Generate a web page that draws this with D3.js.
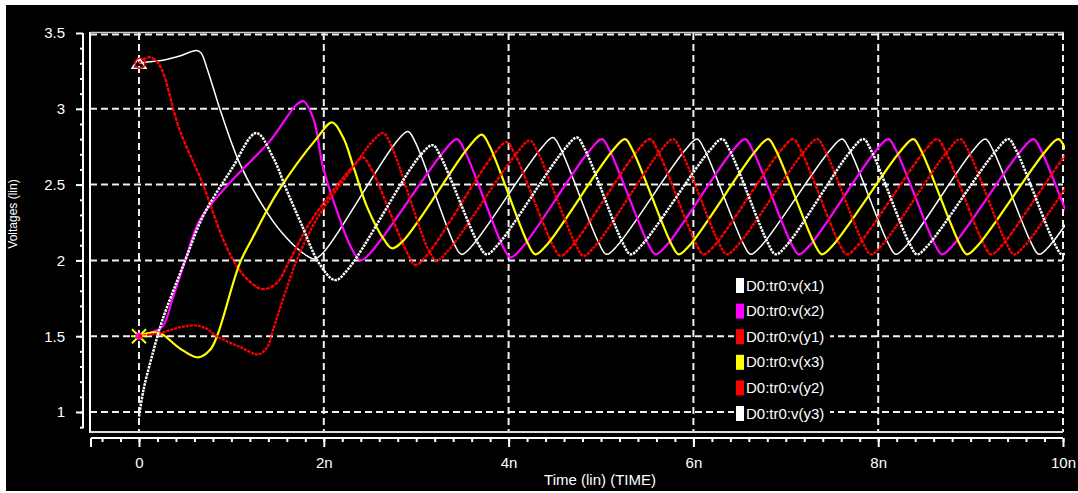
<!DOCTYPE html>
<html><head><meta charset="utf-8">
<script src="https://cdn.jsdelivr.net/npm/d3@7"></script>
<style>
html,body{margin:0;padding:0;background:#fff;}
svg{display:block;}
text{font-family:"Liberation Sans",Arial,sans-serif;fill:#fff;}
</style></head><body>
<svg id="chart" width="1078" height="493"></svg>
<script>
// ---- data (time in ns, voltage in V) ----
const xTicks = [0, 2, 4, 6, 8, 10];
const xTickLabels = ["0", "2n", "4n", "6n", "8n", "10n"];
const yTicks = [1, 1.5, 2, 2.5, 3, 3.5];
const yTickLabels = ["1", "1.5", "2", "2.5", "3", "3.5"];
const seriesNames = ["D0:tr0:v(x1)", "D0:tr0:v(x2)", "D0:tr0:v(y1)", "D0:tr0:v(x3)", "D0:tr0:v(y2)", "D0:tr0:v(y3)"];
const seriesColors = ["#ffffff", "#ff00ff", "#ff0000", "#ffff00", "#ff0000", "#ffffff"];

const x1Data = [[0,3.30],[0.12,3.31],[0.26,3.32],[0.45,3.35],[0.62,3.385],[0.67,3.37],[0.74,3.26],[0.88,2.99],[1.09,2.64],[1.35,2.35],[1.55,2.18],[1.75,2.06],[1.9,2.01],
  [2.02,2.07],[2.77,2.77],[2.91,2.85],[2.99,2.78],[3.41,2.11],[3.49,2.04],[3.61,2.10],[4.34,2.73],[4.48,2.81],[4.56,2.74],[4.98,2.11],[5.06,2.04],[5.18,2.10],
  [5.90,2.72],[6.04,2.80],[6.12,2.73],[6.54,2.11],[6.62,2.04],[6.74,2.10],[7.47,2.72],[7.61,2.80],[7.69,2.73],[8.11,2.11],[8.19,2.04],[8.31,2.10],
  [9.02,2.72],[9.16,2.80],[9.24,2.73],[9.66,2.11],[9.74,2.04],[9.86,2.10],[10.58,2.72],[10.72,2.80]];
const x2Data = [[0,1.5],[0.1,1.52],[0.25,1.56],[0.37,1.76],[0.5,2.0],[0.66,2.27],[0.98,2.51],[1.42,2.79],[1.71,3.03],[1.78,3.05],[1.89,2.93],[1.99,2.62],[2.14,2.33],[2.3,2.08],[2.4,2.0],
  [2.52,2.06],[3.30,2.72],[3.44,2.80],[3.52,2.73],[3.94,2.09],[4.02,2.02],[4.14,2.08],[4.87,2.72],[5.01,2.80],[5.09,2.73],[5.51,2.11],[5.59,2.04],[5.71,2.10],
  [6.42,2.72],[6.56,2.80],[6.64,2.73],[7.06,2.11],[7.14,2.04],[7.26,2.10],[7.97,2.72],[8.11,2.80],[8.19,2.73],[8.61,2.11],[8.69,2.04],[8.81,2.10],
  [9.54,2.72],[9.68,2.80],[9.76,2.73],[10.18,2.11],[10.26,2.04]];
const y1Data = [[0,3.30],[0.06,3.33],[0.12,3.34],[0.22,3.29],[0.44,2.86],[0.68,2.52],[0.91,2.14],[1.05,1.97],[1.2,1.86],[1.34,1.81],[1.49,1.85],[1.63,2.0],[1.85,2.25],[2.15,2.50],[2.33,2.63],[2.42,2.68],
  [2.50,2.62],[2.91,2.04],[2.99,1.97],[3.11,2.03],[3.84,2.70],[3.98,2.78],[4.06,2.71],[4.48,2.10],[4.56,2.03],[4.68,2.09],[5.39,2.72],[5.53,2.80],[5.61,2.73],
  [6.03,2.11],[6.11,2.04],[6.23,2.10],[6.94,2.72],[7.08,2.80],[7.16,2.73],[7.58,2.11],[7.66,2.04],[7.78,2.10],[8.50,2.72],[8.64,2.80],[8.72,2.73],
  [9.14,2.11],[9.22,2.04],[9.34,2.10],[10.06,2.72],[10.2,2.80]];
const x3Data = [[0,1.5],[0.1,1.52],[0.23,1.52],[0.44,1.42],[0.64,1.36],[0.77,1.41],[0.85,1.51],[1.09,1.98],[1.23,2.15],[1.5,2.45],[1.93,2.81],[2.09,2.91],[2.21,2.81],[2.32,2.62],[2.47,2.35],[2.66,2.13],[2.74,2.08],
  [2.86,2.13],[3.57,2.75],[3.71,2.83],[3.79,2.76],[4.21,2.11],[4.29,2.04],[4.41,2.10],[5.12,2.72],[5.26,2.80],[5.34,2.73],[5.76,2.11],[5.84,2.04],[5.96,2.10],
  [6.67,2.72],[6.81,2.80],[6.89,2.73],[7.31,2.11],[7.39,2.04],[7.51,2.10],[8.24,2.72],[8.38,2.80],[8.46,2.73],[8.88,2.11],[8.96,2.04],[9.08,2.10],
  [9.81,2.72],[9.95,2.80],[10.03,2.73],[10.45,2.11]];
const y2Data = [[0,1.5],[0.1,1.51],[0.23,1.52],[0.45,1.56],[0.63,1.57],[0.73,1.55],[0.84,1.5],[1.09,1.43],[1.29,1.38],[1.39,1.43],[1.45,1.54],[1.6,1.82],[1.74,2.05],[1.95,2.3],[2.3,2.6],[2.52,2.78],[2.64,2.84],
  [2.72,2.77],[3.14,2.06],[3.22,2.0],[3.34,2.06],[4.09,2.71],[4.23,2.79],[4.31,2.72],[4.73,2.10],[4.81,2.03],[4.93,2.09],[5.64,2.72],[5.78,2.80],[5.86,2.73],
  [6.28,2.11],[6.36,2.04],[6.48,2.10],[7.20,2.72],[7.34,2.80],[7.42,2.73],[7.84,2.11],[7.92,2.04],[8.04,2.10],[8.75,2.72],[8.89,2.80],[8.97,2.73],
  [9.39,2.11],[9.47,2.04],[9.59,2.10],[10.31,2.72],[10.45,2.80]];
const y3Data = [[0,0.97],[0.05,1.15],[0.15,1.39],[0.25,1.6],[0.5,2.0],[0.7,2.3],[1.0,2.6],[1.27,2.84],[1.45,2.68],[1.6,2.46],[1.75,2.25],[1.95,1.98],[2.12,1.87],
  [2.26,1.94],[3.04,2.69],[3.18,2.76],[3.26,2.69],[3.68,2.10],[3.76,2.04],[3.88,2.10],[4.60,2.73],[4.74,2.81],[4.82,2.74],[5.24,2.11],[5.32,2.04],[5.44,2.10],
  [6.17,2.72],[6.31,2.80],[6.39,2.73],[6.81,2.11],[6.89,2.04],[7.01,2.10],[7.70,2.72],[7.84,2.80],[7.92,2.73],[8.34,2.11],[8.42,2.04],[8.54,2.10],
  [9.27,2.72],[9.41,2.80],[9.49,2.73],[9.91,2.11],[9.99,2.04],[10.11,2.10],[10.83,2.72]];
const allSeries = [x1Data, x2Data, y1Data, x3Data, y2Data, y3Data];

// ---- drawing ----
const svg = d3.select("#chart");
const x = d3.scaleLinear().domain([0, 10]).range([139, 1063]);
const y = d3.scaleLinear().domain([1, 3.5]).range([412, 33]);
const L = 90, R = x(10), T = y(3.5), B = 432;

svg.append("rect").attr("x", 6).attr("y", 5).attr("width", 1072).attr("height", 486).attr("fill", "#000");

// grid
const grid = svg.append("g").attr("stroke", "#f0f0f0").attr("stroke-width", 2).attr("stroke-dasharray", "7,4");
grid.selectAll(".gy").data(yTicks).join("line")
  .attr("x1", L).attr("x2", R).attr("y1", d => y(d) + (d === 3.5 ? 1.5 : 0)).attr("y2", d => y(d) + (d === 3.5 ? 1.5 : 0));
grid.selectAll(".gx").data(xTicks).join("line")
  .attr("y1", T).attr("y2", B).attr("x1", d => x(d)).attr("x2", d => x(d));

// frame
const frame = svg.append("g").attr("stroke", "#fff").attr("stroke-width", 2);
frame.append("line").attr("x1", L).attr("x2", L).attr("y1", T - 1).attr("y2", B + 1);
frame.append("line").attr("x1", L).attr("x2", R).attr("y1", B).attr("y2", B).attr("stroke", "#ddd");
frame.append("line").attr("x1", L).attr("x2", R + 1).attr("y1", T - 0.5).attr("y2", T - 0.5).attr("stroke-width", 1.5).attr("stroke", "#ccc");

// y axis
const yMinor = d3.range(9, 35).map(d => d / 10);
const yAxisG = svg.append("g").attr("transform", "translate(83,0)");
yAxisG.call(d3.axisLeft(y).tickValues(yMinor).tickSize(3).tickFormat(""));
yAxisG.append("g").call(d3.axisLeft(y).tickValues(yTicks).tickSize(7).tickPadding(11).tickFormat((d, i) => yTickLabels[i]));
yAxisG.selectAll(".domain").remove();
yAxisG.append("line").attr("x1", 0).attr("x2", 0).attr("y1", T).attr("y2", y(0.9) + 1).attr("stroke", "#fff").attr("stroke-width", 2);
yAxisG.selectAll("line").attr("stroke", "#fff").attr("stroke-width", 2);
yAxisG.selectAll("text").attr("fill", "#fff").style("font-size", "15px").style("font-family", "Liberation Sans, Arial, sans-serif");

// x axis
const xMinor = d3.range(-2, 51).map(d => d / 5);
const xAxisG = svg.append("g").attr("transform", "translate(0,438)");
xAxisG.call(d3.axisBottom(x).tickValues(xMinor).tickSize(4).tickFormat(""));
xAxisG.append("g").call(d3.axisBottom(x).tickValues(xTicks).tickSize(9).tickPadding(10).tickFormat((d, i) => xTickLabels[i]));
xAxisG.selectAll(".domain").remove();
xAxisG.append("line").attr("x1", L + 1).attr("x2", R).attr("y1", 0).attr("y2", 0);
xAxisG.append("line").attr("x1", L + 1).attr("x2", L + 1).attr("y1", 0).attr("y2", 9);
xAxisG.selectAll("line").attr("stroke", "#fff").attr("stroke-width", 2);
xAxisG.selectAll("text").attr("fill", "#fff").style("font-size", "15px").style("font-family", "Liberation Sans, Arial, sans-serif");

// axis titles
svg.append("text").attr("x", 600).attr("y", 485).attr("text-anchor", "middle").style("font-size", "15px").text("Time (lin) (TIME)");
svg.append("text").attr("transform", "translate(17,214) rotate(-90)").attr("text-anchor", "middle").style("font-size", "12px").text("Voltages (lin)");

// curves
svg.append("clipPath").attr("id", "clip").append("rect").attr("x", L + 1).attr("y", T).attr("width", R - L + 1).attr("height", B - T);
const line = d3.line().x(d => x(d[0])).y(d => y(d[1])).curve(d3.curveCatmullRom.alpha(0.5));
const styles = [
  {w: 1.5, dash: null},
  {w: 2.2, dash: null},
  {w: 2.3, dash: "4,1"},
  {w: 2.2, dash: null},
  {w: 2.3, dash: "3,1"},
  {w: 2.5, dash: "2.5,1"}
];
const curves = svg.append("g").attr("clip-path", "url(#clip)");
allSeries.forEach((s, i) => {
  curves.append("path").datum(s).attr("d", line).attr("fill", "none")
    .attr("stroke", seriesColors[i]).attr("stroke-width", styles[i].w)
    .attr("stroke-dasharray", styles[i].dash).attr("stroke-linejoin", "round");
});

// start markers
const mk = svg.append("g").attr("fill", "none");
const px0 = x(0), py33 = y(x1Data[0][1]), py15 = y(x2Data[0][1]);
mk.append("path").attr("d", `M${px0 - 7},${py33 + 5}L${px0 + 7},${py33 + 5}L${px0},${py33 - 6}Z`).attr("stroke", "#fff").attr("stroke-width", 1.5);
mk.append("circle").attr("cx", px0 + 1).attr("cy", py33).attr("r", 5).attr("stroke", "#ff0000").attr("stroke-width", 1.5);
mk.append("path").attr("d", `M${px0 - 7},${py15 - 7}L${px0 + 7},${py15 + 7}M${px0 - 7},${py15 + 7}L${px0 + 7},${py15 - 7}M${px0 - 8},${py15}L${px0 + 8},${py15}`)
  .attr("stroke", "#ffff00").attr("stroke-width", 2);
mk.append("circle").attr("cx", px0).attr("cy", py15).attr("r", 3.5).attr("fill", "#ff00ff");
mk.append("circle").attr("cx", px0 + 1).attr("cy", py15).attr("r", 2).attr("fill", "#ff0000");

// legend
const leg = svg.append("g");
seriesNames.forEach((n, i) => {
  const cy = 285 + i * 25.6;
  leg.append("rect").attr("x", 734).attr("y", cy - 8).attr("width", 96).attr("height", 16).attr("fill", "#000");
  leg.append("rect").attr("x", 736).attr("y", cy - 7).attr("width", 8).attr("height", 15).attr("fill", seriesColors[i]);
  leg.append("text").attr("x", 746).attr("y", cy + 5.5).style("font-size", "15px").text(n);
});
</script>
</body></html>
